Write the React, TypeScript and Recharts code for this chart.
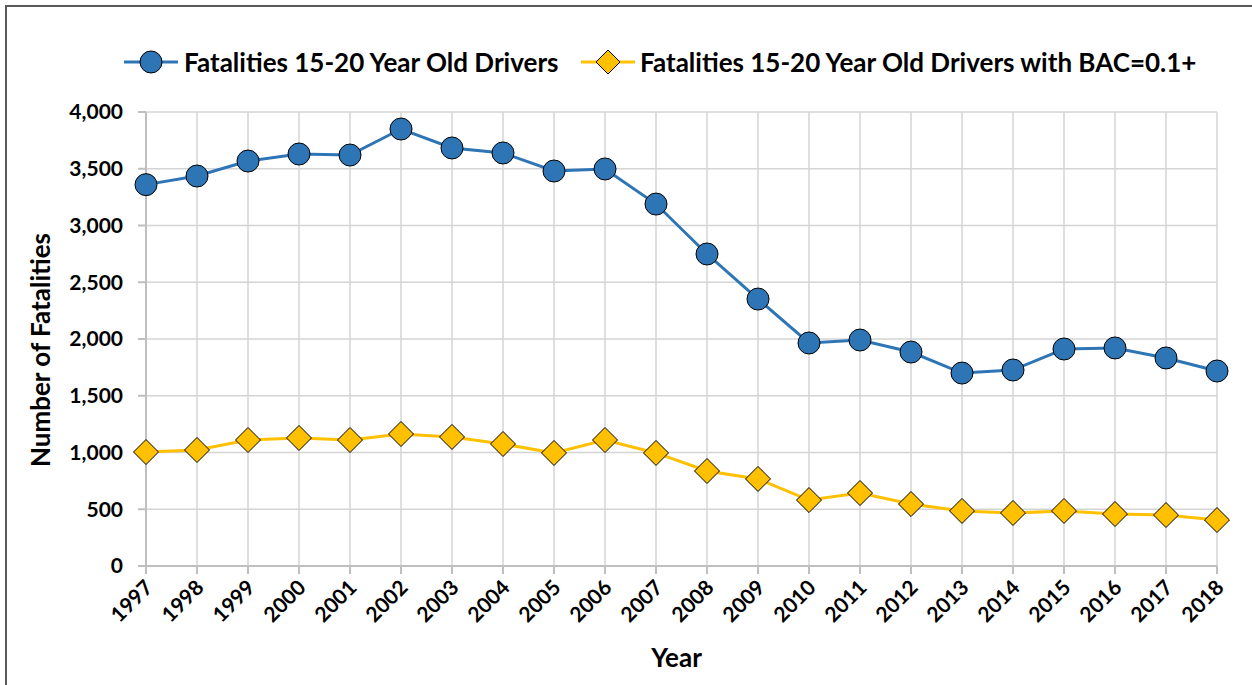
import React from 'react'
import { LineChart, Line, XAxis, YAxis, CartesianGrid, Legend } from 'recharts'

const years = [
  '1997', '1998', '1999', '2000', '2001', '2002', '2003', '2004', '2005', '2006', '2007',
  '2008', '2009', '2010', '2011', '2012', '2013', '2014', '2015', '2016', '2017', '2018',
]
const allDrivers = [
  3360, 3436, 3568, 3630, 3621, 3850, 3683, 3639, 3480, 3498, 3189,
  2749, 2352, 1965, 1991, 1885, 1700, 1727, 1912, 1921, 1833, 1718,
]
const bacDrivers = [
  1004, 1022, 1110, 1128, 1110, 1163, 1137, 1075, 996, 1110, 996,
  837, 767, 581, 643, 546, 485, 467, 485, 458, 449, 405,
]
const yTicks = [0, 500, 1000, 1500, 2000, 2500, 3000, 3500, 4000]

const BLUE = '#2E75B6'
const YELLOW = '#FFC000'
const FONT = 'Lato, "Open Sans", sans-serif'

const data = years.map((y, i) => ({ year: y, all: allDrivers[i], bac: bacDrivers[i] }))

const Circle = (props: any) => {
  const { cx, cy } = props
  if (cx == null || cy == null) return null
  return <circle cx={cx} cy={cy} r={11} fill={BLUE} stroke="#000" strokeWidth={1} />
}

const Diamond = (props: any) => {
  const { cx, cy } = props
  if (cx == null || cy == null) return null
  const s = 12.5
  return (
    <polygon
      points={`${cx},${cy - s} ${cx + s},${cy} ${cx},${cy + s} ${cx - s},${cy}`}
      fill={YELLOW}
      stroke="#000"
      strokeWidth={1}
    />
  )
}

const XTick = (props: any) => {
  const { x, y, payload } = props
  const ax = x + 8
  const ay = y + 13
  return (
    <text
      x={ax}
      y={ay}
      textAnchor="end"
      transform={`rotate(-45, ${ax}, ${ay})`}
      fontSize={21}
      fontWeight={700}
      fontFamily={FONT}
      fill="#000"
    >
      {payload.value}
    </text>
  )
}

// axis titles sit a little off-centre in the original
const YTitle = (props: any) => {
  const { viewBox } = props
  const cx = 40
  const cy = viewBox.y + viewBox.height / 2 + 11
  return (
    <text
      x={cx}
      y={cy}
      textAnchor="middle"
      dominantBaseline="central"
      transform={`rotate(-90, ${cx}, ${cy})`}
      fontSize={26}
      fontWeight={700}
      fontFamily={FONT}
      fill="#000"
    >
      Number of Fatalities
    </text>
  )
}

const XTitle = (props: any) => {
  const { viewBox } = props
  return (
    <text
      x={viewBox.x + viewBox.width / 2 - 5}
      y={667}
      textAnchor="middle"
      fontSize={26}
      fontWeight={700}
      fontFamily={FONT}
      fill="#000"
    >
      Year
    </text>
  )
}

const LegendContent = () => (
  <div style={{ position: 'relative', height: 40, fontFamily: FONT, fontWeight: 700, fontSize: 26 }}>
    <svg width={60} height={30} style={{ position: 'absolute', left: 124, top: 5 }}>
      <line x1={0} y1={15} x2={54} y2={15} stroke={BLUE} strokeWidth={3} />
      <circle cx={27} cy={15} r={11} fill={BLUE} stroke="#000" />
    </svg>
    <span style={{ position: 'absolute', left: 184, top: 4, whiteSpace: 'nowrap', lineHeight: '32px' }}>
      Fatalities 15-20 Year Old Drivers
    </span>
    <svg width={60} height={30} style={{ position: 'absolute', left: 581, top: 5 }}>
      <line x1={0} y1={15} x2={54} y2={15} stroke={YELLOW} strokeWidth={3} />
      <polygon points="27,3 39,15 27,27 15,15" fill={YELLOW} stroke="#000" />
    </svg>
    <span style={{ position: 'absolute', left: 640, top: 4, whiteSpace: 'nowrap', lineHeight: '32px' }}>
      Fatalities 15-20 Year Old Drivers with BAC=0.1+
    </span>
  </div>
)

export default function App() {
  return (
    <div style={{ position: 'absolute', left: 0, top: 0, width: 1252, height: 685, background: '#fff', overflow: 'hidden' }}>
      <div
        style={{
          position: 'absolute',
          left: 5,
          top: 5,
          width: 1260,
          height: 700,
          borderLeft: '2px solid #595959',
          borderTop: '2px solid #595959',
          boxSizing: 'border-box',
        }}
      />
      <div style={{ position: 'absolute', left: 0, top: 0 }}>
        <LineChart width={1252} height={685} data={data} margin={{ top: 72, right: 35, bottom: 0, left: 0 }}>
          <CartesianGrid stroke="#D4D4D4" strokeWidth={1.5} />
          <XAxis
            dataKey="year"
            scale="point"
            padding={{ left: 0, right: 0 }}
            height={119}
            stroke="#BFBFBF"
            strokeWidth={2}
            tickSize={8}
            tick={<XTick />}
            interval={0}
            label={<XTitle />}
          />
          <YAxis
            width={146}
            domain={[0, 4000]}
            ticks={yTicks}
            interval={0}
            stroke="#BFBFBF"
            strokeWidth={2}
            tickSize={8}
            tickMargin={15}
            tick={{ fontSize: 21, fontWeight: 700, fontFamily: FONT, fill: '#000' }}
            tickFormatter={(v: number) => v.toLocaleString('en-US')}
            label={<YTitle />}
          />
          <Legend verticalAlign="top" align="left" wrapperStyle={{ top: 42, left: 0, width: 1252 }} content={<LegendContent />} />
          <Line
            type="linear"
            dataKey="all"
            stroke={BLUE}
            strokeWidth={3}
            dot={<Circle />}
            activeDot={false}
            isAnimationActive={false}
          />
          <Line
            type="linear"
            dataKey="bac"
            stroke={YELLOW}
            strokeWidth={3}
            dot={<Diamond />}
            activeDot={false}
            isAnimationActive={false}
          />
        </LineChart>
      </div>
    </div>
  )
}
